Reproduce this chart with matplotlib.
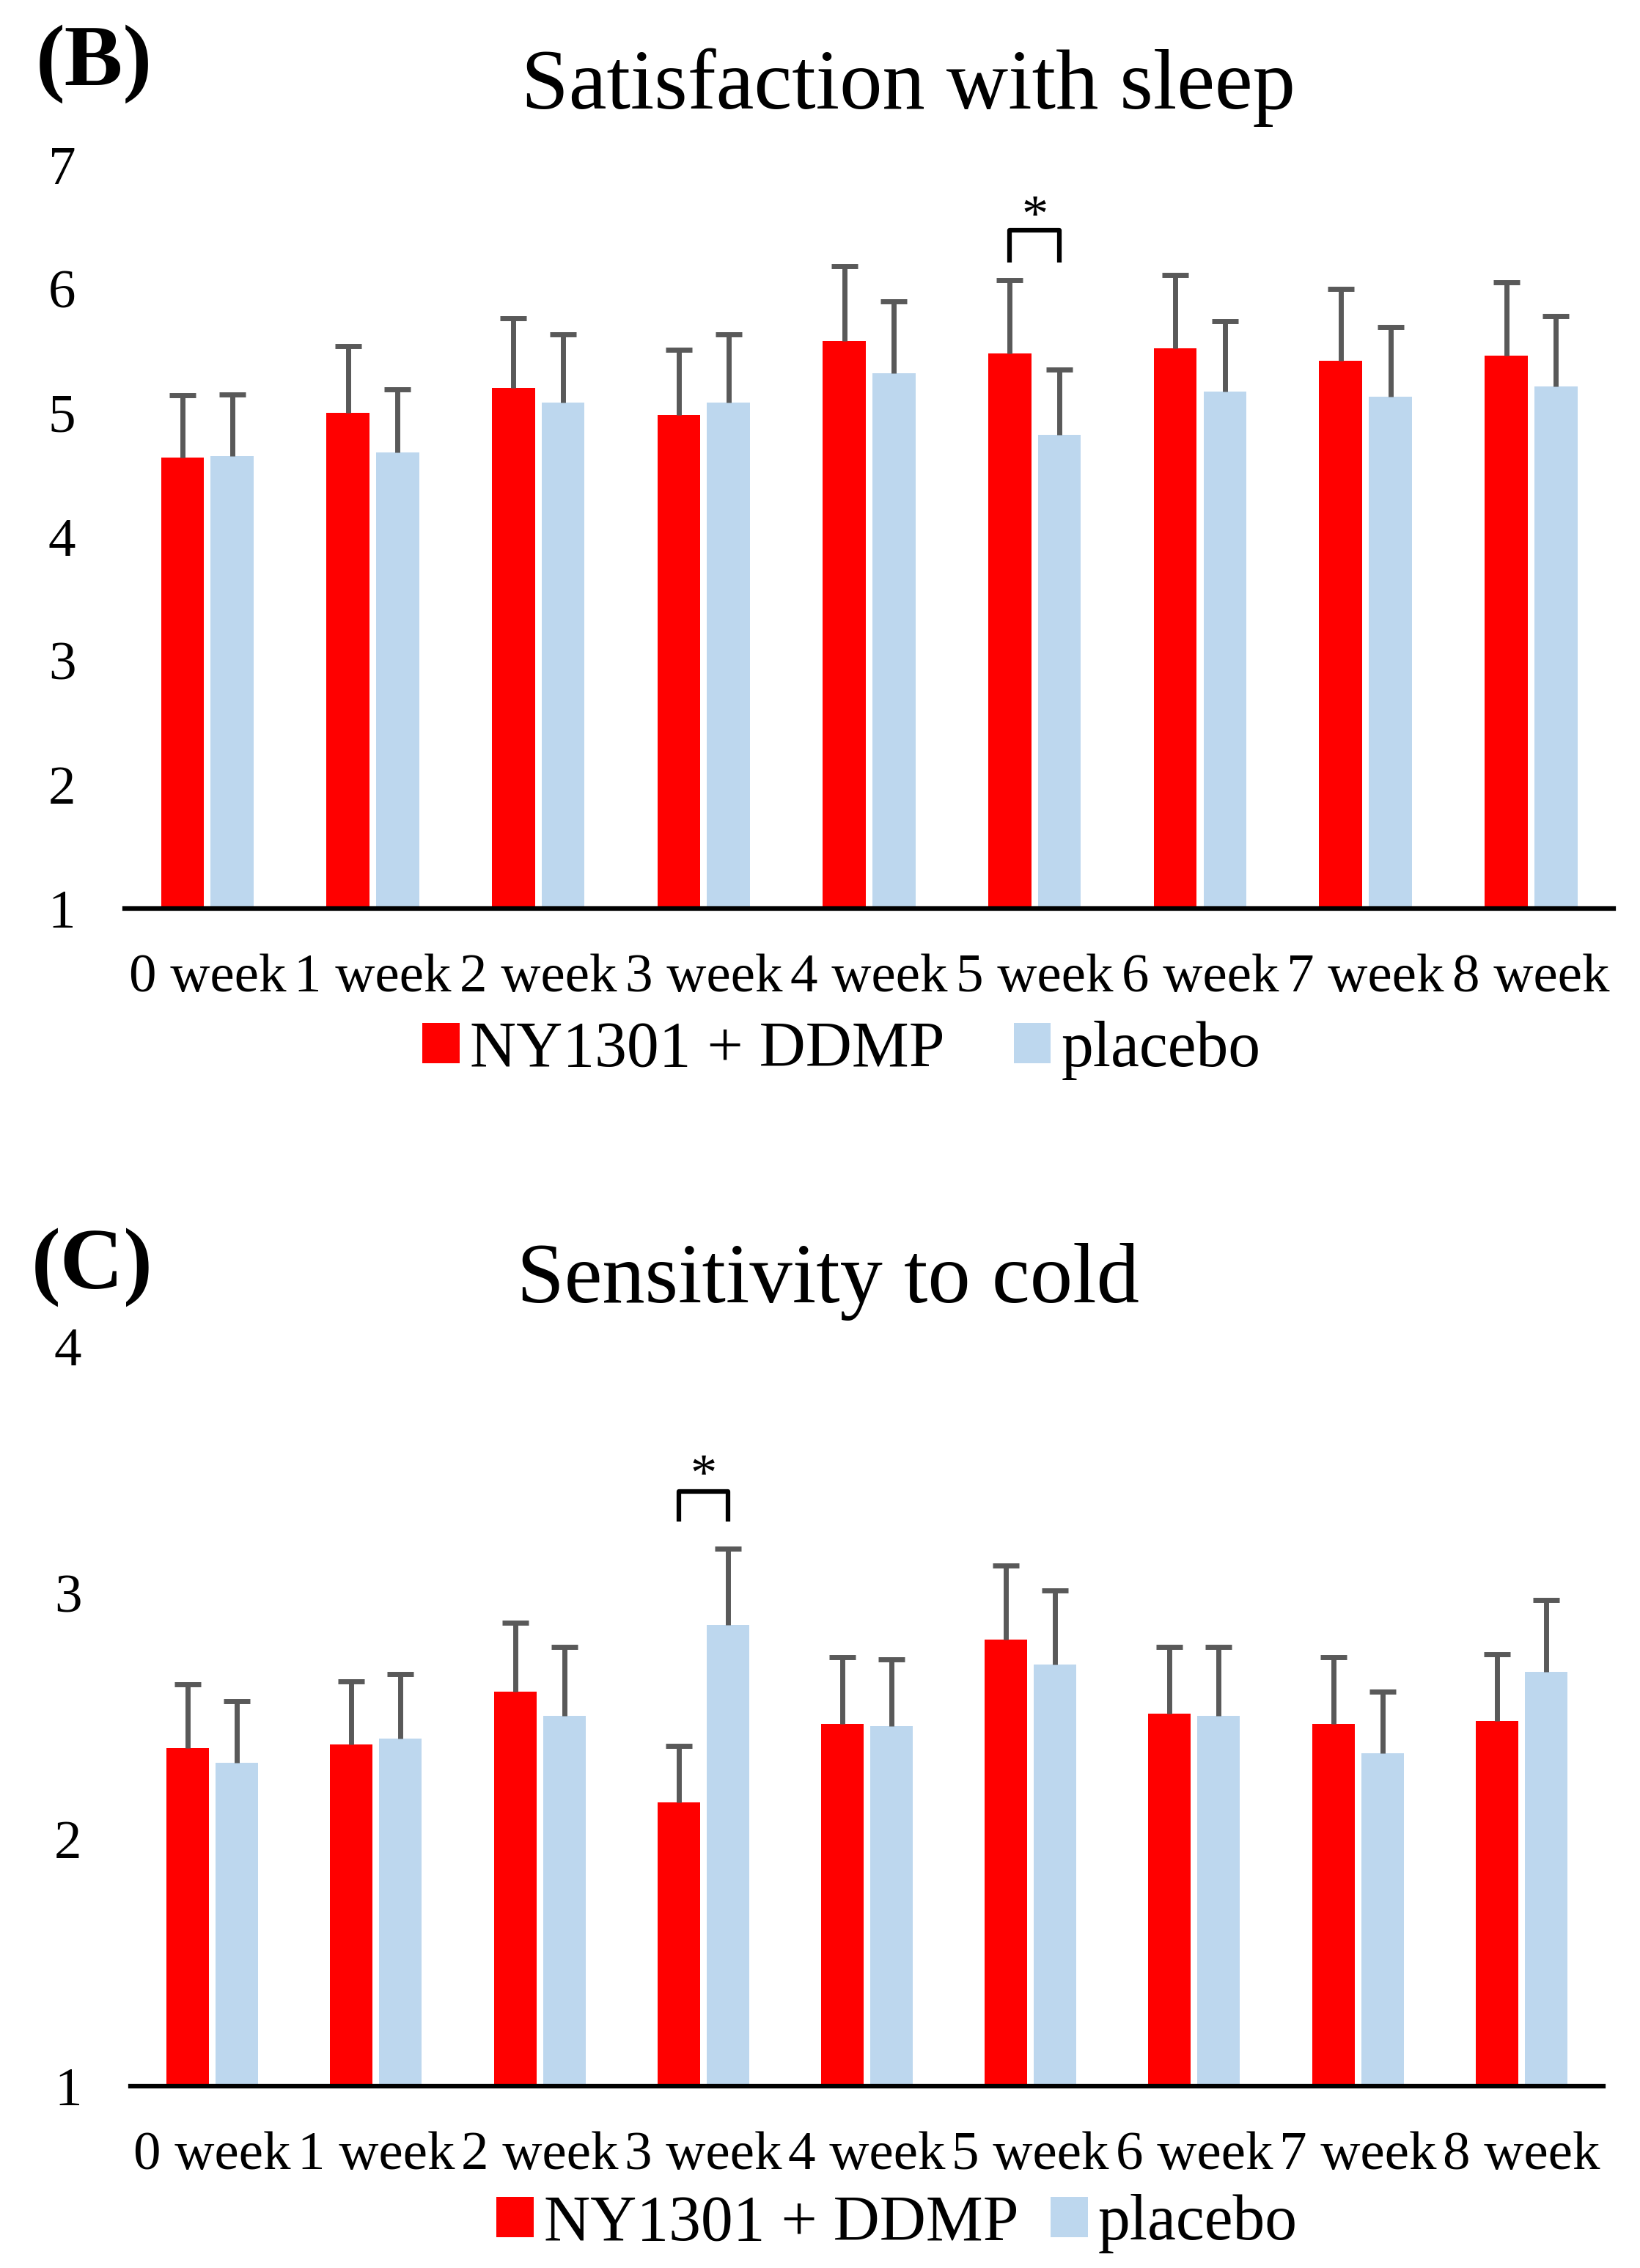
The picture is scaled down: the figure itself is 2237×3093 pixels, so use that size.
import matplotlib.pyplot as plt
import numpy as np

plt.rcParams['font.family'] = ['Liberation Serif', 'DejaVu Serif']

weeks = ["0 week", "1 week", "2 week", "3 week", "4 week",
         "5 week", "6 week", "7 week", "8 week"]

# (B) Satisfaction with sleep
sleep_ny = [4.64, 5.00, 5.20, 4.98, 5.58, 5.48, 5.52, 5.42, 5.46]
sleep_ny_err = [0.50, 0.54, 0.56, 0.53, 0.60, 0.59, 0.59, 0.58, 0.59]
sleep_pl = [4.65, 4.68, 5.08, 5.08, 5.32, 4.82, 5.17, 5.13, 5.21]
sleep_pl_err = [0.50, 0.51, 0.55, 0.55, 0.58, 0.53, 0.57, 0.56, 0.57]

# (C) Sensitivity to cold
cold_ny = [2.37, 2.385, 2.60, 2.15, 2.47, 2.81, 2.51, 2.47, 2.48]
cold_ny_err = [0.26, 0.255, 0.28, 0.23, 0.27, 0.30, 0.27, 0.27, 0.27]
cold_pl = [2.31, 2.41, 2.50, 2.87, 2.46, 2.71, 2.50, 2.35, 2.68]
cold_pl_err = [0.25, 0.26, 0.28, 0.31, 0.27, 0.30, 0.28, 0.25, 0.29]

RED = '#FF0000'
BLUE = '#BDD7EE'
ERR = '#595959'


def upper_err(ax, x, y, err):
    # only the upper whisker, no cap at the bar top
    eb = ax.errorbar(x, y, yerr=[np.zeros(len(y)), err], fmt='none', zorder=3,
                     ecolor=ERR, elinewidth=5, capsize=13, capthick=5)
    eb[1][0].set_visible(False)


def draw_panel(ax, ny, ny_err, pl, pl_err, ylim, yticks, sig_idx, sig_y):
    x = np.arange(len(weeks))
    w = 0.26
    off = 0.15
    ax.bar(x - off, ny, w, color=RED, label='NY1301 + DDMP', zorder=2)
    ax.bar(x + off, pl, w, color=BLUE, label='placebo', zorder=2)
    upper_err(ax, x - off, ny, ny_err)
    upper_err(ax, x + off, pl, pl_err)
    ax.set_xlim(-0.5, len(weeks) - 0.5)
    ax.set_ylim(*ylim)
    ax.set_yticks(yticks)
    ax.set_xticks(x)
    ax.set_xticklabels(weeks)
    for s in ['top', 'right', 'left']:
        ax.spines[s].set_visible(False)
    ax.spines['bottom'].set_linewidth(4.5)
    ax.spines['bottom'].set_zorder(4)
    ax.tick_params(axis='both', length=0, labelsize=54)
    ax.tick_params(axis='x', pad=44)
    ax.tick_params(axis='y', pad=48)
    # significance bracket
    lo, hi, star = sig_y
    xa = sig_idx - off
    xb = sig_idx + off
    ax.plot([xa, xa, xb, xb], [lo, hi, hi, lo], color='black', lw=4.5,
            solid_joinstyle='round', solid_capstyle='butt', zorder=5)
    ax.text(sig_idx, star, '*', ha='center', va='center', fontsize=52)


fig = plt.figure(figsize=(22.37, 30.93), dpi=100)

axB = fig.add_axes([0.076, 0.5994, 0.908, 0.3279])
draw_panel(axB, sleep_ny, sleep_ny_err, sleep_pl, sleep_pl_err,
           (1, 7), [1, 2, 3, 4, 5, 6, 7], 5, (6.21, 6.47, 6.57))

axC = fig.add_axes([0.0796, 0.0802, 0.898, 0.3262])
draw_panel(axC, cold_ny, cold_ny_err, cold_pl, cold_pl_err,
           (1, 4), [1, 2, 3, 4], 3, (3.29, 3.41, 3.47))

fig.text(0.554, 0.952, 'Satisfaction with sleep', ha='center', va='baseline', fontsize=84)
fig.text(0.022, 0.9625, '(B)', ha='left', va='baseline', fontsize=86, fontweight='bold')
fig.text(0.5047, 0.4258, 'Sensitivity to cold', ha='center', va='baseline', fontsize=84)
fig.text(0.019, 0.432, '(C)', ha='left', va='baseline', fontsize=86, fontweight='bold')

h, l = axB.get_legend_handles_labels()
fig.legend(h, l, loc='center', bbox_to_anchor=(0.513, 0.537), ncol=2, frameon=False,
           fontsize=63, handlelength=0.58, handleheight=0.58, handletextpad=0.16,
           columnspacing=1.08, borderpad=0)
h, l = axC.get_legend_handles_labels()
fig.legend(h, l, loc='center', bbox_to_anchor=(0.547, 0.0194), ncol=2, frameon=False,
           fontsize=63, handlelength=0.58, handleheight=0.58, handletextpad=0.16,
           columnspacing=0.5, borderpad=0)

fig.savefig('out.png', dpi=100)
